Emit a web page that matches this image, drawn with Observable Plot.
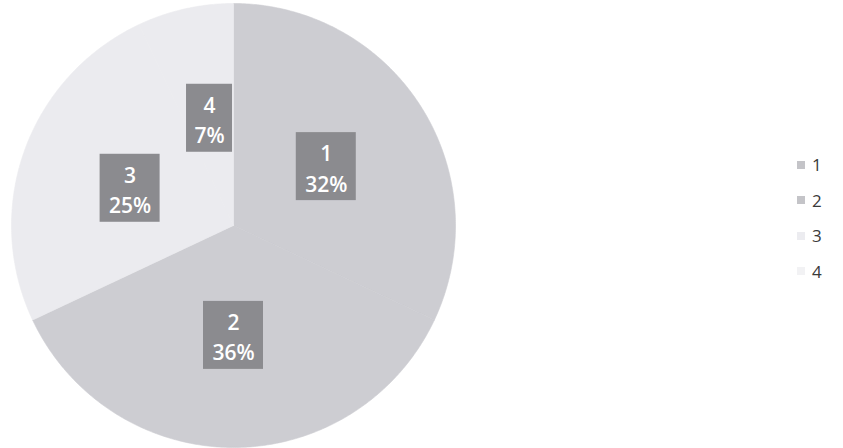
<!DOCTYPE html>
<html><head><meta charset="utf-8">
<script src="https://cdn.jsdelivr.net/npm/d3@7"></script>
<script src="https://cdn.jsdelivr.net/npm/@observablehq/plot@0.6"></script>
<style>
body{margin:0;background:#fff;}
#wrap{position:relative;width:843px;height:448px;}
#legend{position:absolute;left:797px;top:147px;font-family:"Open Sans",sans-serif;font-size:17px;color:#3a3a3a;}
#legend .row{height:35.5px;display:flex;align-items:center;}
#legend .sw{width:8px;height:8px;margin-right:7px;}
</style>
</head><body>
<div id="wrap"><div id="legend"></div></div>
<script>
const categories = ["1", "2", "3", "4"];
const values = [32, 36, 25, 7];
const sliceColors = ["#cdcdd2", "#cdcdd2", "#ebebef", "#ebebef"];
const legendColors = ["#c4c4c8", "#c4c4c8", "#ececf0", "#f2f2f4"];
const boxColor = "#8b8b8f";

const total = d3.sum(values);
const arcs = d3.pie().sort(null).startAngle(0).endAngle(2 * Math.PI)(values);

// slice outlines in unit coordinates (angles derived from data)
const slices = arcs.map((a, i) => {
  const pts = [{x: 0, y: 0}];
  const n = Math.max(4, Math.ceil((a.endAngle - a.startAngle) / 0.01));
  for (let k = 0; k <= n; k++) {
    const t = a.startAngle + (a.endAngle - a.startAngle) * k / n;
    pts.push({x: Math.sin(t), y: Math.cos(t)});
  }
  pts.push({x: 0, y: 0});
  return pts;
});

const labels = arcs.map((a, i) => {
  const mid = (a.startAngle + a.endAngle) / 2;
  const pct = Math.round(values[i] / total * 100) + "%";
  return {x: 0.495 * Math.sin(mid), y: 0.495 * Math.cos(mid), text: categories[i] + "\n" + pct, len: pct.length};
});

const marks = slices.map((pts, i) =>
  Plot.line(pts, {x: "x", y: "y", fill: sliceColors[i], stroke: sliceColors[i], strokeWidth: 0.6, curve: "linear"})
);
for (const lab of labels) {
  const hw = 9 + 7 * lab.len;
  marks.push(Plot.rect([lab], {x1: "x", x2: "x", y1: "y", y2: "y", fill: boxColor,
    insetLeft: -hw, insetRight: -hw, insetTop: -34, insetBottom: -34}));
}
marks.push(Plot.text(labels, {x: "x", y: "y", text: "text", fill: "white", fontSize: 21, lineHeight: 1.45,
  fontFamily: "Open Sans", fontWeight: 600}));

const chart = Plot.plot({
  width: 843, height: 448,
  marginTop: 0, marginBottom: 0, marginLeft: 0, marginRight: 0,
  x: {domain: [-1, 1], range: [11, 455], axis: null},
  y: {domain: [-1, 1], range: [447, 3], axis: null},
  style: {background: "white"},
  marks
});
document.getElementById("wrap").prepend(chart);

const legend = document.getElementById("legend");
categories.forEach((c, i) => {
  const row = document.createElement("div");
  row.className = "row";
  row.innerHTML = `<div class="sw" style="background:${legendColors[i]}"></div><span>${c}</span>`;
  legend.appendChild(row);
});
</script>
</body></html>
